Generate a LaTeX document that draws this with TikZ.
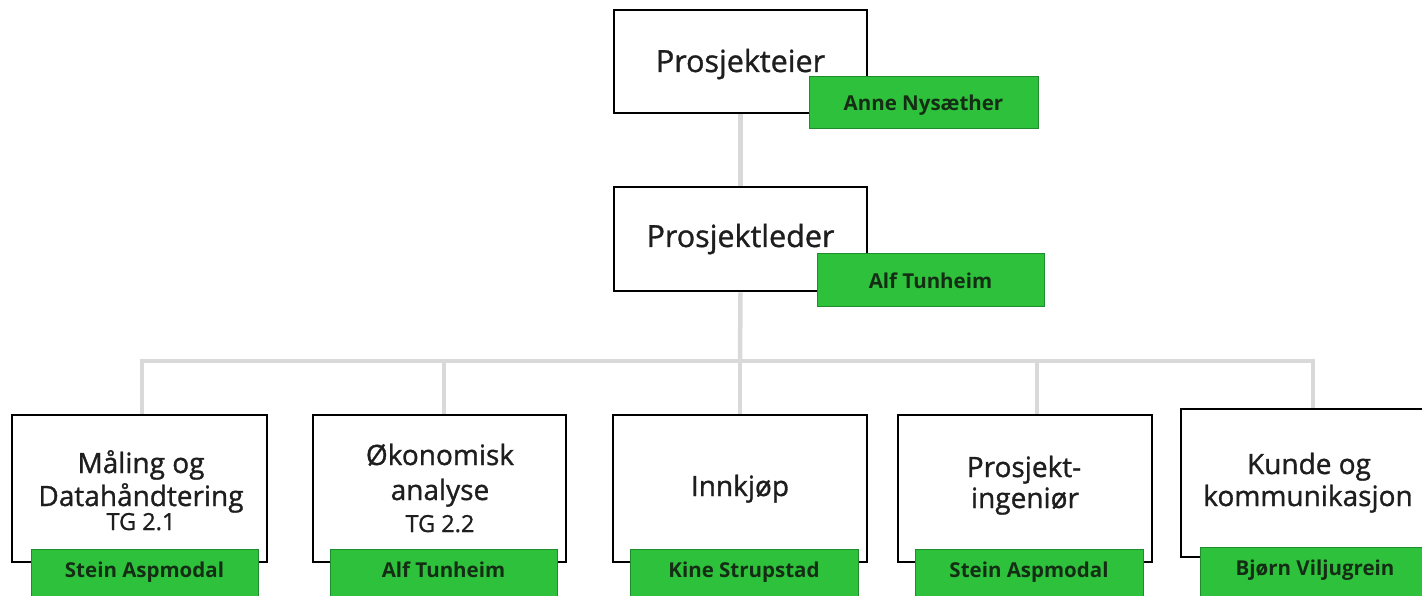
\documentclass[tikz,border=0pt]{standalone}
\usepackage{fontspec}
\setmainfont{Open Sans}[UprightFeatures={FakeBold=1.1}]
\usetikzlibrary{backgrounds}
\definecolor{grn}{RGB}{46,194,60}
\definecolor{grnb}{RGB}{30,140,44}
\definecolor{conn}{RGB}{217,217,217}
\definecolor{txt}{RGB}{30,30,30}
\definecolor{tagtxt}{RGB}{20,45,20}
\tikzset{
  box/.style={draw=black, line width=2.6pt, fill=white, inner sep=0pt, align=center, text=txt},
  tag/.style={draw=grnb, line width=1pt, fill=grn, inner sep=0pt, text=tagtxt, font=\bfseries\fontsize{20.5}{22}\selectfont},
  link/.style={draw=conn, line width=4.5pt},
  big/.style={font=\fontsize{30.5}{34}\selectfont},
  ln/.style={anchor=base, inner sep=0pt, text=txt, font=\fontsize{28}{32}\selectfont},
  sm/.style={anchor=base, inner sep=0pt, text=txt, font=\fontsize{23.5}{25}\selectfont},
}
\begin{document}
\begin{tikzpicture}[x=1pt,y=-1pt]
\useasboundingbox (0,0) rectangle (1422,596);
\clip (0,0) rectangle (1422,596);
\node[box, big, minimum width=253, minimum height=103, text height=21pt, text depth=0pt] (pe) at (740.5,61.5) {Prosjekteier};
\node[box, big, minimum width=253, minimum height=104, text height=16pt, text depth=0pt] (pl) at (740.5,239) {Prosjektleder};
\coordinate (hub) at (740,361);
\coordinate (hl) at (142,361);
\coordinate (hr) at (1313,361);
\coordinate (h2) at (444,361);
\coordinate (h4) at (1037,361);
\node[box, minimum width=255, minimum height=147] (b1) at (139.5,488.5) {};
\node[box, minimum width=253, minimum height=147] (b2) at (439.5,488.5) {};
\node[box, font=\fontsize{28}{32}\selectfont, minimum width=254, minimum height=147, text height=15pt, text depth=0pt] (b3) at (740,488.5) {Innkj\o p};
\node[box, minimum width=254, minimum height=147] (b4) at (1025,488.5) {};
\node[box, minimum width=250, minimum height=148] (b5) at (1306,483) {};
% box texts
\node[ln] (b1a) at (141,473) {M\aa ling og};
\node[ln] (b1b) at (141,506) {Datah\aa ndtering};
\node[sm] (b1c) at (141,530) {TG 2.1};
\node[ln] (b2a) at (440,465) {\O konomisk};
\node[ln] (b2b) at (440,500) {analyse};
\node[sm] (b2c) at (440,532) {TG 2.2};
\node[ln] (b4a) at (1024,477) {Prosjekt-};
\node[ln] (b4b) at (1025,508) {ingeni\o r};
\node[ln] (b5a) at (1309,474) {Kunde og};
\node[ln] (b5b) at (1308,506) {kommunikasjon};
\begin{scope}[on background layer]
\draw[link] (pe.south) -- (pl.north);
\draw[link] (pl.south) -- (hub);
\draw[link] (hl |- b1.north) -- (hl) -- (hr) -- (hr |- b5.north);
\draw[link] (h2) -- (h2 |- b2.north);
\draw[link] (hub) -- (b3.north);
\draw[link] (h4) -- (h4 |- b4.north);
\end{scope}
\node[tag, minimum width=229, minimum height=52, text height=16pt, text depth=0pt] (t0) at (923.5,103) {Anne Nys\ae ther};
\node[tag, minimum width=227, minimum height=52, text height=16pt, text depth=0pt] (t1) at (930.5,280) {Alf Tunheim};
\tikzset{btag/.style={tag, minimum height=50, text height=14.6pt, text depth=8pt}}
\node[btag, minimum width=227] (t2) at (144.5,574) {Stein Aspmodal};
\node[btag, minimum width=227] (t3) at (443.5,574) {Alf Tunheim};
\node[btag, minimum width=228] (t4) at (744,574) {Kine Strupstad};
\node[btag, minimum width=228] (t5) at (1029,574) {Stein Aspmodal};
\node[btag, minimum width=230] (t6) at (1315,572) {Bj\o rn Viljugrein};
\end{tikzpicture}
\end{document}
